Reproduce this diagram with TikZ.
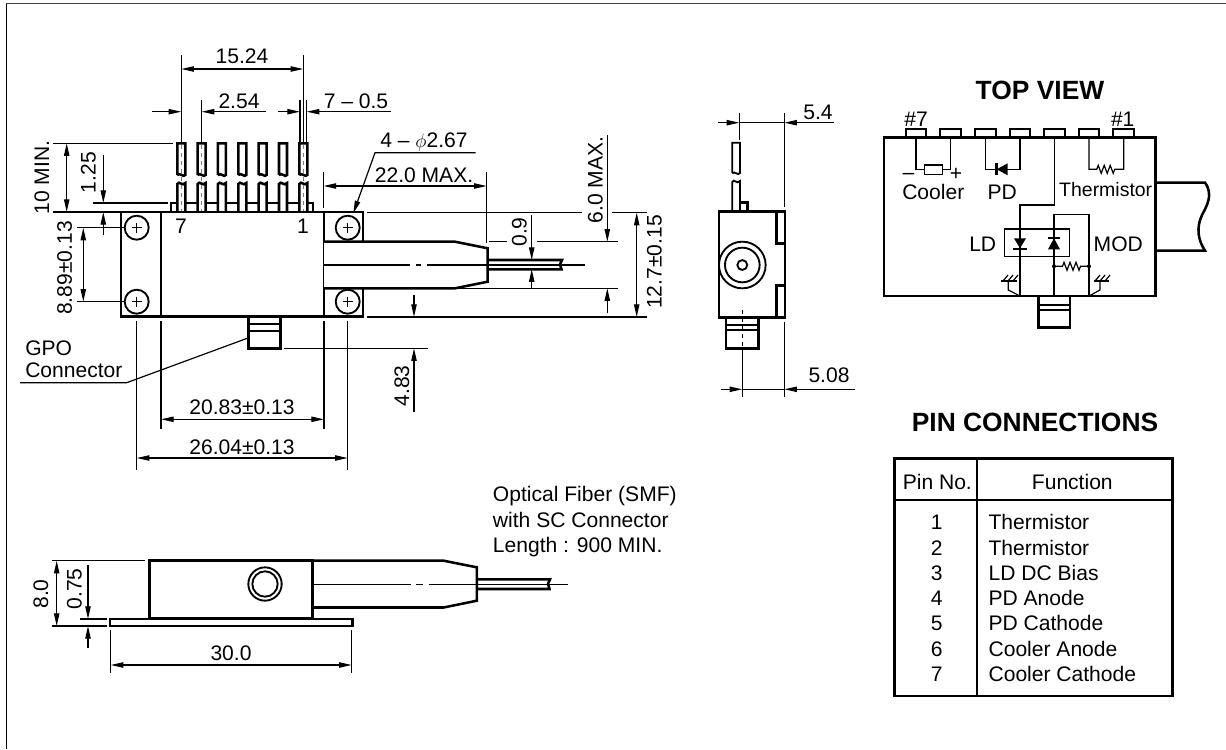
\documentclass[tikz,border=0pt]{standalone}
\usepackage{fontspec}
\setmainfont{Liberation Sans}
\usetikzlibrary{arrows.meta}
\tikzset{
  outln/.style={line width=1.9pt},
  medln/.style={line width=1.4pt},
  thinln/.style={line width=0.9pt},
  dimboth/.style={thinln,{Triangle[length=9.5pt,width=4pt]}-{Triangle[length=9.5pt,width=4pt]}},
  dimtip/.style={thinln,-{Triangle[length=9.5pt,width=4pt]}},
  lbl/.style={font=\fontsize{15.8}{18}\selectfont,inner sep=0pt,text height=11.3pt,text depth=0pt},
  lblv/.style={lbl,rotate=90},
  lblleft/.style={lbl,anchor=west},
  signlbl/.style={lbl,text height=7pt},
  headlbl/.style={font=\fontsize{19.8}{22}\selectfont\bfseries,inner sep=0pt,text height=14.2pt,text depth=0pt},
  tvpinbox/.style={draw,medln,fill=white,minimum width=15.5pt,minimum height=6pt,inner sep=0pt},
  gpobody/.style={draw,outln,fill=white}
}
\newcommand{\zigpath}{-- ++(1.5,-4) -- ++(3,8) -- ++(3,-8) -- ++(3,8) -- ++(3,-8) -- ++(3,8) -- ++(1.5,-4)}
\begin{document}
\begin{tikzpicture}[x=0.75pt,y=-0.75pt]
  \useasboundingbox (0,0) rectangle (1226,749);
  \draw[line width=1.1pt] (6.5,749) -- (6.5,3.5);
  \draw[line width=1.4pt,black!75] (5.5,3.5) -- (1226,3.5);

  % front view
  \draw[outln] (171,203) rectangle (313,212);
  \foreach \x in {181.3,201.6,221.9,242.3,262.6,283,303.3} {
    \draw[outln,fill=white] (\x-4,175) -- (\x-4,143.3) -- (\x+4,143.3) -- (\x+4,175)
      .. controls (\x+2,178) and (\x-1,172) .. (\x-4,175);
    \draw[outln,fill=white] (\x-4,212) -- (\x-4,184)
      .. controls (\x-2,180) and (\x+1,187) .. (\x+4,183) -- (\x+4,212);
  }
  \foreach \x in {181.3,201.6,303.3}
    \draw[line width=0.5pt,dashed,gray] (\x,145) -- (\x,211);
  \draw[outln] (121,212) rectangle (363,316.7);
  \draw[outln] (161,212) -- (161,316.7);
  \draw[outln] (324,212) -- (324,316.7);
  \foreach \cx/\cy in {136.7/227.7,136.7/301.7,347.7/227.7,347.7/301.7} {
    \draw[medln,fill=white] (\cx,\cy) circle[radius=9pt];
    \draw[thinln] (\cx-5,\cy) -- (\cx+5,\cy) (\cx,\cy-5) -- (\cx,\cy+5);
  }
  \node[lbl] (pinseven) at (181,226) {7};
  \node[lbl] (pinone) at (303,226) {1};
  \draw[outln,fill=white] (324,241.7) -- (455,241.7) -- (487.7,248.3) -- (487.7,281.7) -- (455,288.3) -- (324,288.3);
  \draw[outln] (487.7,260) -- (562,260) -- (560,264.5) -- (561.5,269.3) -- (487.7,269.3);
  \draw[thinln] (324,265) -- (410,265) (416,265) -- (421,265) (427,265) -- (585,265);
  \draw[gpobody] (248.3,316.7) rectangle (280.7,348.3);
  \draw[outln] (248.3,324) -- (280.7,324) (248.3,331) -- (280.7,331);

  % dimensions of the front view
  \draw[thinln] (181.3,55) -- (181.3,141.7);
  \draw[thinln] (303.3,55) -- (303.3,141.7);
  \draw[dimboth] (181.3,69) -- (303.3,69);
  \node[lbl] (dimpitchall) at (242,56) {15.24};
  \draw[thinln] (201.6,100) -- (201.6,141.7);
  \draw[dimtip] (152,111.7) -- (181.3,111.7);
  \draw[dimtip] (266,111.7) -- (201.6,111.7);
  \node[lbl] (dimpitch) at (239,101) {2.54};
  \draw[thinln] (300,100) -- (300,141.7);
  \draw[thinln] (306.7,100) -- (306.7,141.7);
  \draw[dimtip] (278,111.7) -- (300,111.7);
  \draw[dimtip] (390.7,111.7) -- (306.7,111.7);
  \node[lbl] (dimpinw) at (356,101) {7 -- 0.5};
  \draw[thinln] (53,143.3) -- (173,143.3);
  \draw[thinln] (53,212) -- (121,212);
  \draw[dimboth] (66.7,143.3) -- (66.7,212);
  \node[lblv] (dimpinlen) at (41.7,177.5) {10 MIN.};
  \draw[thinln] (92.7,203) -- (168,203);
  \draw[dimtip] (103.3,155) -- (103.3,203);
  \draw[dimtip] (103.3,235) -- (103.3,212);
  \node[lblv] (dimtab) at (88,172.5) {1.25};
  \draw[thinln] (76.7,227.7) -- (124,227.7);
  \draw[thinln] (76.7,301.7) -- (124,301.7);
  \draw[dimboth] (83.3,227.7) -- (83.3,301.7);
  \node[lblv] (dimhole) at (64.3,268) {8.89±0.13};
  \draw[thinln] (161,321) -- (161,429);
  \draw[thinln] (324,321) -- (324,429);
  \draw[dimboth] (161,419.3) -- (324,419.3);
  \node[lbl] (dimbodyw) at (242,406.7) {20.83±0.13};
  \draw[thinln] (136.7,321) -- (136.7,470);
  \draw[thinln] (347.7,321) -- (347.7,470);
  \draw[dimboth] (136.7,458) -- (347.7,458);
  \node[lbl] (dimholew) at (242,447) {26.04±0.13};
  \node[lblleft] (gpotop) at (25,347.7) {GPO};
  \node[lblleft] (gpobot) at (25,370) {Connector};
  \draw[thinln] (20,382.7) -- (126.7,382.7) -- (248,338);
  \node[lblleft] (holenote) at (380,140) {4 -- $\phi$2.67};
  \draw[dimtip] (475.7,152.7) -- (375,152.7) -- (353.3,213.3);
  \draw[thinln] (323.5,171.7) -- (323.5,208);
  \draw[thinln] (486.7,171.7) -- (486.7,243);
  \draw[dimboth] (323.5,186) -- (486.7,186);
  \node[lbl] (dimnose) at (424,175) {22.0 MAX.};
  \draw[thinln] (366.7,212.7) -- (581.7,212.7) (611.7,212.7) -- (646.7,212.7);
  \draw[thinln] (489,241.7) -- (506.7,241.7) (536.7,241.7) -- (618,241.7);
  \draw[thinln] (455,288.3) -- (618,288.3);
  \draw[thinln] (366.7,317) -- (646.7,317);
  \draw[dimtip] (607.3,135) -- (607.3,241.7);
  \draw[dimtip] (607.3,313) -- (607.3,288.3);
  \node[lblv] (dimnosew) at (595,180) {6.0 MAX.};
  \draw[dimboth] (636.7,212.7) -- (636.7,317);
  \node[lblv] (dimdepth) at (654,262) {12.7±0.15};
  \draw[dimtip] (531.7,215) -- (531.7,260);
  \draw[dimtip] (531.7,288.3) -- (531.7,269.3);
  \node[lblv] (dimfiber) at (519,232) {0.9};
  \draw[thinln] (284,348.3) -- (428,348.3);
  \draw[dimtip] (414,295) -- (414,317);
  \draw[dimtip] (414,411.7) -- (414,348.3);
  \node[lblv] (dimgpo) at (401.7,386) {4.83};

  % side view
  \draw[outln,fill=white] (740,212) -- (740,202.3) -- (747.7,202.3) -- (747.7,212);
  \draw[medln,fill=white] (732.3,173) -- (732.3,142.7) -- (740,142.7) -- (740,173)
    .. controls (738,176) and (735,171) .. (732.3,173);
  \draw[medln] (732.3,211.7) -- (732.3,182)
    .. controls (734,178) and (737,185) .. (740,181) -- (740,202.3);
  \draw[outln] (719,211.7) rectangle (785,317.3);
  \draw[outln] (785,211.7) -- (776.7,211.7) -- (776.7,243.3) -- (785,243.3);
  \draw[outln] (785,285.7) -- (776.7,285.7) -- (776.7,317.3) -- (785,317.3);
  \draw[medln] (742.3,265) circle[radius=17.5pt];
  \draw[medln] (742.3,265) circle[radius=13pt];
  \draw[medln] (742.3,265) circle[radius=3.7pt];
  \draw[gpobody] (726,317.3) rectangle (758.7,348.3);
  \draw[medln] (726,325) -- (758.7,325) (726,330) -- (758.7,330);
  \draw[thinln,dashed] (742.3,310) -- (742.3,346);
  \draw[thinln] (742.3,348) -- (742.3,396.7);
  \draw[thinln] (739.3,113) -- (739.3,140);
  \draw[thinln] (784.3,113) -- (784.3,207.3);
  \draw[dimtip] (718.3,122.7) -- (739.3,122.7);
  \draw[dimtip] (834,122.7) -- (784.3,122.7);
  \draw[thinln] (739.3,122.7) -- (784.3,122.7);
  \node[lbl] (dimpinside) at (818,111.7) {5.4};
  \draw[thinln] (784.3,321.7) -- (784.3,396.7);
  \draw[dimtip] (720.7,389.3) -- (742.3,389.3);
  \draw[dimtip] (855,389.3) -- (784.3,389.3);
  \draw[thinln] (742.3,389.3) -- (784.3,389.3);
  \node[lbl] (dimgposide) at (829,375) {5.08};

  % bottom view
  \draw[outln] (110,619) rectangle (352.7,626);
  \draw[outln] (149.3,560.7) rectangle (312.3,618.3);
  \draw[outln] (312.3,560.7) -- (443.6,560.7) -- (476.8,567.3) -- (476.8,600.7) -- (443.6,607.5) -- (312.3,607.5);
  \draw[outln] (476.8,579.3) -- (550,579.3) -- (548,584) -- (549.5,589) -- (476.8,589);
  \draw[thinln] (312.3,584.3) -- (410.7,584.3) (416,584.3) -- (423,584.3) (428.6,584.3) -- (567.7,584.3);
  \draw[medln] (265,584) circle[radius=12.5pt];
  \draw[medln] (265,584) circle[radius=9.5pt];
  \draw[thinln] (52.3,560.7) -- (145,560.7);
  \draw[thinln] (52.3,626) -- (106.7,626);
  \draw[dimboth] (56.7,560.7) -- (56.7,626);
  \node[lblv] (dimheight) at (40.7,594) {8.0};
  \draw[thinln] (80,619) -- (106.7,619);
  \draw[dimtip] (88,565) -- (88,619);
  \draw[dimtip] (88,648) -- (88,626);
  \node[lblv] (dimflange) at (74,589) {0.75};
  \draw[thinln] (110.7,630) -- (110.7,673);
  \draw[thinln] (351.7,630) -- (351.7,673);
  \draw[dimboth] (110.7,665) -- (351.7,665);
  \node[lbl] (dimlen) at (231,653) {30.0};
  \node[lblleft] (fibera) at (492.7,494) {Optical Fiber (SMF)};
  \node[lblleft] (fiberb) at (492.7,520) {with SC Connector};
  \node[lblleft] (fiberc) at (492.7,545) {Length : 900 MIN.};

  % top view
  \node[headlbl] (tvtitle) at (1040,90) {TOP VIEW};
  \draw[gpobody] (1038.3,296) rectangle (1070,327.3);
  \draw[outln] (1038.3,305) -- (1070,305) (1038.3,310) -- (1070,310);
  \draw[outln] (1155.7,182.7) -- (1205,182.7) .. controls (1214,195) and (1206,207) .. (1202,215)
    .. controls (1196,228) and (1198,240) .. (1205,250.7) -- (1155.7,250.7);
  \foreach \n/\x in {7/916,6/950.7,5/985.3,4/1019.9,3/1054.3,2/1089,1/1123.7}
    \node[tvpinbox] (tvpin\n) at (\x,133.3) {};
  \draw[outln] (884,137.3) rectangle (1155.7,296);
  \node[lbl] (tvseven) at (916,119.3) {\#7};
  \node[lbl] (tvone) at (1122.7,119.3) {\#1};
  \node[draw,thinln,minimum width=13.5pt,minimum height=7pt,inner sep=0pt] (coolerbox) at (933.5,169.6) {};
  \draw[thinln] (tvpin7.south) |- (coolerbox.west);
  \draw[thinln] (coolerbox.east) -| (tvpin6.south);
  \node[signlbl] (tvminus) at (908.5,175) {--};
  \node[signlbl] (tvplus) at (956,176) {+};
  \node[lbl] (tvcooler) at (933.3,191.5) {Cooler};
  \coordinate (pdtip) at (996.7,169.3);
  \draw[thinln] (tvpin5.south) |- (pdtip) -- (1019.9,169.3) -- (tvpin4.south);
  \fill (pdtip) -- (1007.7,163.3) -- (1007.7,175.3) -- cycle;
  \draw[outln] (996.7,163.3) -- (996.7,175.3);
  \node[lbl] (tvpd) at (1002.3,191.5) {PD};
  \draw[thinln] (tvpin2.south) |- (1096.7,169.3) \zigpath\space -- (1123.7,169.3) -- (tvpin1.south);
  \node[lbl,font=\fontsize{14.6}{18}\selectfont] (tvtherm) at (1105.7,189) {Thermistor};
  \draw[thinln] (tvpin3.south) |- (1020,205) -- (1020,296);
  \draw[thinln] (1004.7,229) rectangle (1069.3,256.7);
  \draw[thinln] (1054,296) -- (1054,214.3) -- (1089,214.3) -- (1089,296);
  \fill (1014,238.3) -- (1026,238.3) -- (1020,248.3) -- cycle;
  \draw[medln] (1013,249.3) -- (1027,249.3);
  \fill (1048,249.3) -- (1060,249.3) -- (1054,238.3) -- cycle;
  \draw[medln] (1048,238.3) -- (1060,238.3);
  \node[lbl] (tvld) at (982.7,244) {LD};
  \node[lbl] (tvmod) at (1118.3,244) {MOD};
  \fill (1054,266.3) circle[radius=1.5pt] (1089,266.3) circle[radius=1.5pt];
  \draw[thinln] (1054,266.3) -- (1062.5,266.3) \zigpath\space -- (1089,266.3);
  \draw[thinln] (1020,296) -- (1008.3,290) -- (1008.3,281);
  \draw[thinln] (1001,281) -- (1016.7,281);
  \draw[thinln] (1003,281) -- (1008,275) (1008,281) -- (1013,275) (1013,281) -- (1018,275);
  \draw[thinln] (1089,296) -- (1100,290) -- (1100,281);
  \draw[thinln] (1094,281) -- (1109,281);
  \draw[thinln] (1095,281) -- (1100,275) (1100,281) -- (1105,275) (1105,281) -- (1110,275);

  % pin table
  \node[headlbl] (pintitle) at (1035,422.3) {PIN CONNECTIONS};
  \draw[outln] (894.3,458.3) rectangle (1172.7,696);
  \draw[medln] (977.3,458.3) -- (977.3,696);
  \draw[outln] (894.3,500) -- (1172.7,500);
  \node[lbl] (headpin) at (937.3,481.7) {Pin No.};
  \node[lbl] (headfunc) at (1072.3,481.7) {Function};
  \foreach \n/\y/\t in {1/522/Thermistor,2/547.7/Thermistor,3/572.7/LD DC Bias,4/598/PD Anode,5/623.3/PD Cathode,6/648.7/Cooler Anode,7/674/Cooler Cathode} {
    \node[lbl] (rownum\n) at (936.7,\y) {\n};
    \node[lblleft] (rowfunc\n) at (988.3,\y) {\t};
  }
\end{tikzpicture}
\end{document}
